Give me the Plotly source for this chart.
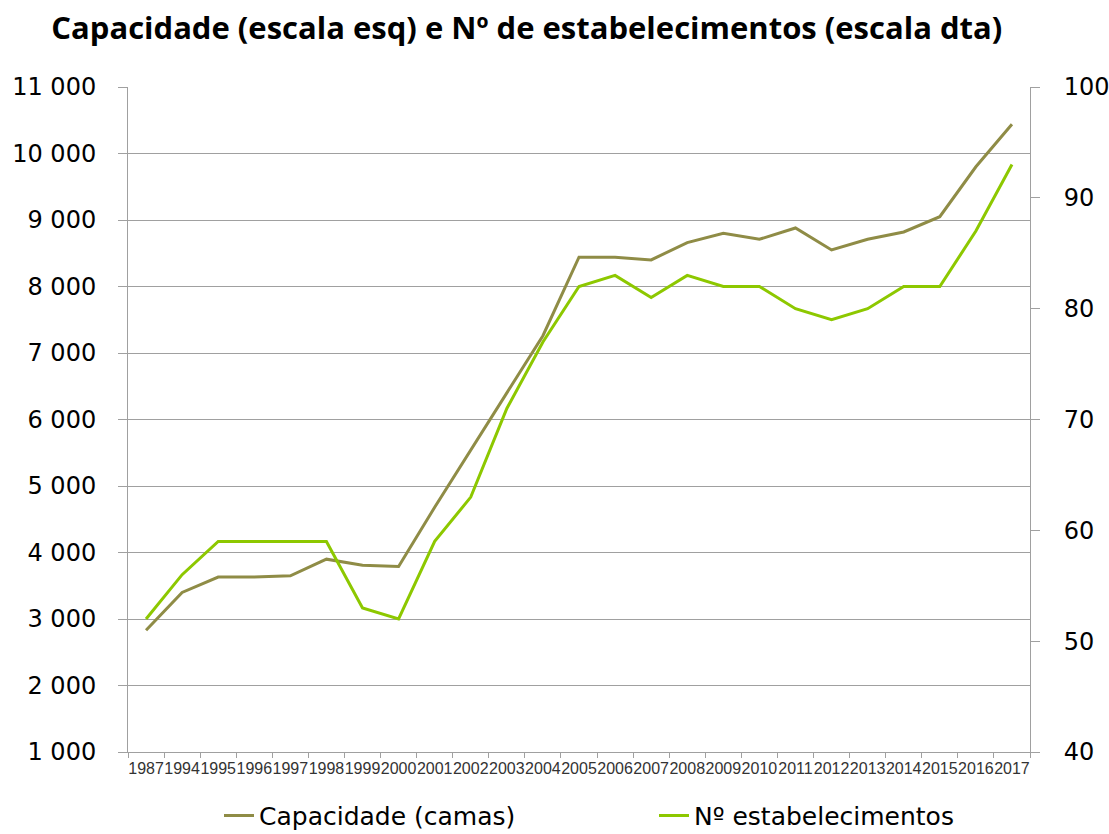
import plotly.graph_objects as go

anos = ["1987", "1994", "1995", "1996", "1997", "1998", "1999", "2000", "2001", "2002",
        "2003", "2004", "2005", "2006", "2007", "2008", "2009", "2010", "2011", "2012",
        "2013", "2014", "2015", "2016", "2017"]
capacidade = [2830, 3400, 3630, 3630, 3650, 3900, 3810, 3790, 4680, 5540,
              6400, 7260, 8440, 8440, 8400, 8660, 8800, 8710, 8880, 8550,
              8710, 8820, 9050, 9800, 10440]
estabelecimentos = [52, 56, 59, 59, 59, 59, 53, 52, 59, 63,
                    71, 77, 82, 83, 81, 83, 82, 82, 80, 79,
                    80, 82, 82, 87, 93]

cor_cap = "#8F8C46"
cor_est = "#8DC800"
cinza = "#A0A0A0"

fig = go.Figure()
fig.add_trace(go.Scatter(x=anos, y=capacidade, mode="lines", name="Capacidade (camas)",
                         line=dict(color=cor_cap, width=3)))
fig.add_trace(go.Scatter(x=anos, y=estabelecimentos, mode="lines", name="Nº estabelecimentos",
                         line=dict(color=cor_est, width=3), yaxis="y2"))

fig.update_layout(
    width=1109, height=834,
    paper_bgcolor="white", plot_bgcolor="white",
    separators=". ",
    margin=dict(l=128, r=79, t=87, b=82, autoexpand=False),
    title=dict(text="<b>Capacidade (escala esq) e Nº de estabelecimentos (escala dta)</b>",
               x=0.475, xanchor="center", y=0.966, yanchor="middle",
               font=dict(family="Open Sans", size=31, color="black")),
    xaxis=dict(type="category", range=[-0.5, len(anos) - 0.5], tickson="boundaries",
               ticks="outside", ticklen=5, automargin=False,
               tickcolor=cinza, showline=True, linecolor=cinza, linewidth=1,
               showgrid=False, tickangle=0, ticklabelstandoff=2,
               tickfont=dict(family="Liberation Sans", size=16, color="#333333")),
    yaxis=dict(range=[1000, 11000], dtick=1000, tickformat=",d", automargin=False,
               showgrid=True, gridcolor=cinza, gridwidth=1,
               showline=True, linecolor=cinza, linewidth=1,
               ticks="outside", ticklen=9, tickcolor=cinza, ticklabelstandoff=17,
               zeroline=False,
               tickfont=dict(family="DejaVu Sans", size=24, color="black")),
    yaxis2=dict(range=[40, 100], dtick=10, overlaying="y", side="right", automargin=False,
                showgrid=False, showline=True, linecolor=cinza, linewidth=1,
                ticks="outside", ticklen=9, tickcolor=cinza, ticklabelstandoff=19,
                zeroline=False,
                tickfont=dict(family="DejaVu Sans", size=24, color="black")),
    legend=dict(orientation="h", x=(219 - 128) / 902, xanchor="left", y=-0.096, yanchor="middle",
                font=dict(family="DejaVu Sans", size=25, color="black"),
                entrywidth=390, entrywidthmode="pixels",
                bgcolor="rgba(0,0,0,0)"),
)

fig.write_html("out.html", config={"displayModeBar": False},
               post_script="document.body.style.margin='0';")
